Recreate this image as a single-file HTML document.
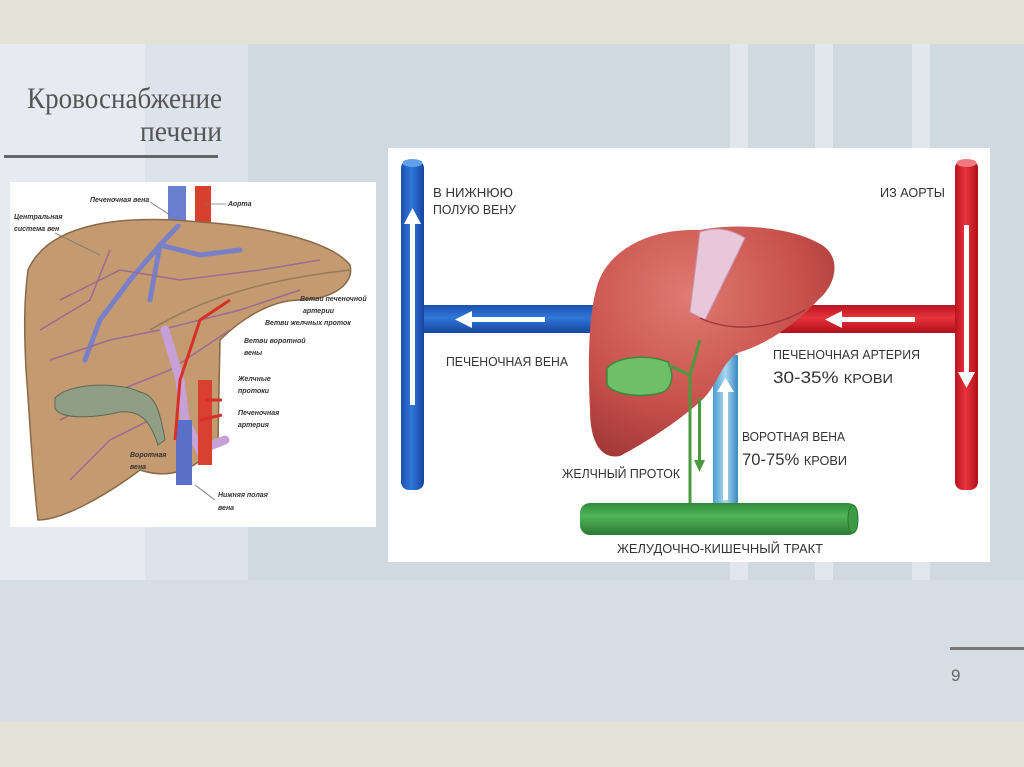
<!DOCTYPE html>
<html><head><meta charset="utf-8"><style>
html,body{margin:0;padding:0;width:1024px;height:767px;overflow:hidden;background:#d2dae1}
svg{display:block}
</style></head><body>
<svg width="1024" height="767" viewBox="0 0 1024 767" xmlns="http://www.w3.org/2000/svg" font-family="'Liberation Sans', sans-serif">
<defs>
<linearGradient id="bv" x1="0" x2="1"><stop offset="0" stop-color="#1b4fb0"/><stop offset=".45" stop-color="#2f78d8"/><stop offset="1" stop-color="#1744a0"/></linearGradient>
<linearGradient id="bh" x1="0" y1="0" x2="0" y2="1"><stop offset="0" stop-color="#1b4fb0"/><stop offset=".45" stop-color="#2f78d8"/><stop offset="1" stop-color="#1744a0"/></linearGradient>
<linearGradient id="rv" x1="0" x2="1"><stop offset="0" stop-color="#b81420"/><stop offset=".45" stop-color="#e8333c"/><stop offset="1" stop-color="#b01018"/></linearGradient>
<linearGradient id="rh" x1="0" y1="0" x2="0" y2="1"><stop offset="0" stop-color="#b81420"/><stop offset=".45" stop-color="#e8333c"/><stop offset="1" stop-color="#b01018"/></linearGradient>
<linearGradient id="gh" x1="0" y1="0" x2="0" y2="1"><stop offset="0" stop-color="#2f8a3a"/><stop offset=".4" stop-color="#52b55a"/><stop offset="1" stop-color="#2a7a33"/></linearGradient>
<linearGradient id="lb" x1="0" x2="1"><stop offset="0" stop-color="#4a9cd0"/><stop offset=".5" stop-color="#a9d7f0"/><stop offset="1" stop-color="#3a88c0"/></linearGradient>
<radialGradient id="liv" cx=".4" cy=".3" r=".8"><stop offset="0" stop-color="#e07a72"/><stop offset=".6" stop-color="#c7504c"/><stop offset="1" stop-color="#9e3534"/></radialGradient>
</defs>
<rect x="0" y="0" width="1024" height="44" fill="#e4e2d6"/>
<rect x="0" y="44" width="1024" height="536" fill="#d1d9e0"/>
<rect x="0" y="44" width="145" height="536" fill="#e7ebf1"/>
<rect x="145" y="44" width="103" height="536" fill="#dde3ea"/>
<rect x="730" y="44" width="18" height="536" fill="#e2e7ed"/>
<rect x="815" y="44" width="18" height="536" fill="#e2e7ed"/>
<rect x="912" y="44" width="18" height="536" fill="#e2e7ed"/>
<rect x="0" y="580" width="1024" height="142" fill="#d6dde4"/>
<rect x="0" y="722" width="1024" height="45" fill="#e4e2d6"/>
<text x="27" y="108" font-family="'Liberation Serif',serif" font-size="30" fill="#555" textLength="195" lengthAdjust="spacingAndGlyphs">Кровоснабжение</text>
<text x="140" y="141" font-family="'Liberation Serif',serif" font-size="30" fill="#555" textLength="82" lengthAdjust="spacingAndGlyphs">печени</text>
<rect x="4" y="155" width="214" height="3" fill="#666"/>
<rect x="950" y="647" width="74" height="3" fill="#777"/>
<text x="951" y="681" font-size="17" fill="#666">9</text>

<rect x="10" y="182" width="366" height="345" fill="#fff"/>
<rect x="168" y="186" width="18" height="40" fill="#6a7ed0"/>
<rect x="195" y="186" width="16" height="40" fill="#d8402e"/>
<path d="M28,270 C50,220 130,215 200,222 C260,226 330,240 350,265 C355,285 330,300 300,300 C270,300 240,320 220,340 L218,440 C200,470 170,480 140,470 C100,500 60,520 38,520 C32,470 30,420 26,370 C24,330 24,300 28,270 Z" fill="#c49a70" stroke="#8a6848" stroke-width="1.5"/>
<path d="M150,330 C200,300 260,280 350,270" stroke="#9a7a55" fill="none" stroke-width="1.5"/>
<g stroke="#7a80c8" stroke-width="5" fill="none" stroke-linecap="round">
<path d="M178,226 L160,245 L130,280 L100,320 L85,360"/>
<path d="M160,245 L200,255 L240,250"/>
<path d="M160,245 L150,300"/>
</g>
<g stroke="#9a6a90" stroke-width="1.5" fill="none">
<path d="M60,300 L120,270 L180,280 L260,270 L320,260"/>
<path d="M50,360 L110,340 L160,330 L240,310 L300,290"/>
<path d="M60,420 L120,390 L170,370 L230,330"/>
<path d="M70,480 L110,440 L150,420"/>
<path d="M40,330 L90,300 L110,250"/>
</g>
<g stroke="#c8a0d8" stroke-width="9" fill="none" stroke-linecap="round"><path d="M165,330 L180,380 L185,420 L200,450 L225,440"/></g>
<rect x="176" y="420" width="16" height="65" fill="#5a70c8"/>
<rect x="198" y="380" width="14" height="85" fill="#d84030"/>
<g stroke="#d83028" stroke-width="3" fill="none"><path d="M175,440 L180,380 L200,320 L230,300"/><path d="M205,400 L222,400"/><path d="M200,420 L222,415"/></g>
<path d="M55,398 C70,382 120,382 140,392 C155,395 160,410 165,440 L158,445 C150,420 140,410 120,412 C95,418 60,420 55,408 Z" fill="#8f9e85" stroke="#5d6a55" stroke-width="1"/>
<g font-size="7" font-weight="bold" font-style="italic" fill="#333">
<text x="90" y="202">Печеночная вена</text><text x="228" y="206">Аорта</text>
<text x="14" y="219">Центральная</text><text x="14" y="231">система вен</text>
<text x="300" y="301">Ветви печеночной</text><text x="303" y="313">артерии</text>
<text x="265" y="325">Ветви желчных проток</text>
<text x="244" y="343">Ветви воротной</text><text x="244" y="355">вены</text>
<text x="238" y="381">Желчные</text><text x="238" y="393">протоки</text>
<text x="238" y="415">Печеночная</text><text x="238" y="427">артерия</text>
<text x="130" y="457">Воротная</text><text x="130" y="469">вена</text>
<text x="218" y="497">Нижняя полая</text><text x="218" y="510">вена</text>
</g>
<g stroke="#777" stroke-width=".8"><line x1="150" y1="202" x2="170" y2="215"/><line x1="226" y1="204" x2="205" y2="204"/><line x1="55" y1="233" x2="100" y2="255"/><line x1="215" y1="500" x2="195" y2="485"/></g>

<rect x="388" y="148" width="602" height="414" fill="#fff"/>
<rect x="401" y="160" width="23" height="330" rx="8" fill="url(#bv)"/>
<ellipse cx="412.5" cy="163" rx="10" ry="4" fill="#5fa0e8"/>
<rect x="424" y="305" width="180" height="28" fill="url(#bh)"/>
<rect x="955" y="160" width="23" height="330" rx="8" fill="url(#rv)"/>
<ellipse cx="966.5" cy="163" rx="10" ry="4" fill="#f07a80"/>
<rect x="760" y="305" width="195" height="28" fill="url(#rh)"/>
<rect x="713" y="355" width="25" height="150" fill="url(#lb)"/>
<path d="M596,290 C605,250 650,228 700,230 C740,222 795,228 822,245 C842,258 836,285 818,300 C795,325 765,345 740,352 C722,360 718,385 702,400 C680,420 650,440 620,456 C600,460 590,440 590,410 C588,370 588,320 596,290 Z" fill="url(#liv)"/>
<path d="M700,232 C720,225 735,232 745,238 L705,320 L690,312 Z" fill="#e8c8d8" stroke="#c898b8" stroke-width="1"/>
<path d="M700,318 C730,332 770,330 805,310" fill="none" stroke="#a03838" stroke-width="1.5"/>
<path d="M607,368 C620,355 650,355 668,362 C675,375 672,390 660,393 C640,398 615,395 607,385 Z" fill="#6fbf6a" stroke="#3a8a3a" stroke-width="1.5"/>
<path d="M690,503 L690,375 L700,340 M690,375 L668,365" stroke="#4a9a40" stroke-width="3" fill="none"/>
<rect x="580" y="503" width="278" height="32" rx="10" fill="url(#gh)"/>
<ellipse cx="853" cy="519" rx="5" ry="14" fill="#3e9a46" stroke="#2a7a33"/>
<g fill="#fff">
<rect x="410" y="222" width="5" height="183"/><polygon points="404,224 421,224 412.5,208"/>
<rect x="470" y="317" width="75" height="5"/><polygon points="472,311 472,328 455,319.5"/>
<rect x="840" y="317" width="75" height="5"/><polygon points="842,311 842,328 825,319.5"/>
<rect x="964" y="225" width="5" height="150"/><polygon points="958,372 975,372 966.5,388"/>
<rect x="723" y="390" width="5" height="110"/><polygon points="717,392 734,392 725.5,378"/>
</g>
<rect x="698" y="398" width="3" height="65" fill="#4a9a40"/><polygon points="694,460 705,460 699.5,472" fill="#4a9a40"/>
<g fill="#333" font-size="13" lengthAdjust="spacingAndGlyphs">
<text x="433" y="197" textLength="80" lengthAdjust="spacingAndGlyphs">В НИЖНЮЮ</text>
<text x="433" y="214" textLength="83" lengthAdjust="spacingAndGlyphs">ПОЛУЮ ВЕНУ</text>
<text x="880" y="197" textLength="65" lengthAdjust="spacingAndGlyphs">ИЗ АОРТЫ</text>
<text x="446" y="366" textLength="122" lengthAdjust="spacingAndGlyphs">ПЕЧЕНОЧНАЯ ВЕНА</text>
<text x="773" y="359" textLength="147" lengthAdjust="spacingAndGlyphs">ПЕЧЕНОЧНАЯ АРТЕРИЯ</text>
<text x="773" y="383" font-size="17" textLength="120" lengthAdjust="spacingAndGlyphs">30-35% <tspan font-size="13">КРОВИ</tspan></text>
<text x="742" y="441" textLength="103" lengthAdjust="spacingAndGlyphs">ВОРОТНАЯ ВЕНА</text>
<text x="742" y="465" font-size="17" textLength="105" lengthAdjust="spacingAndGlyphs">70-75% <tspan font-size="13">КРОВИ</tspan></text>
<text x="562" y="478" textLength="118" lengthAdjust="spacingAndGlyphs">ЖЕЛЧНЫЙ ПРОТОК</text>
<text x="617" y="553" textLength="206" lengthAdjust="spacingAndGlyphs">ЖЕЛУДОЧНО-КИШЕЧНЫЙ ТРАКТ</text>
</g>
</svg>
</body></html>
